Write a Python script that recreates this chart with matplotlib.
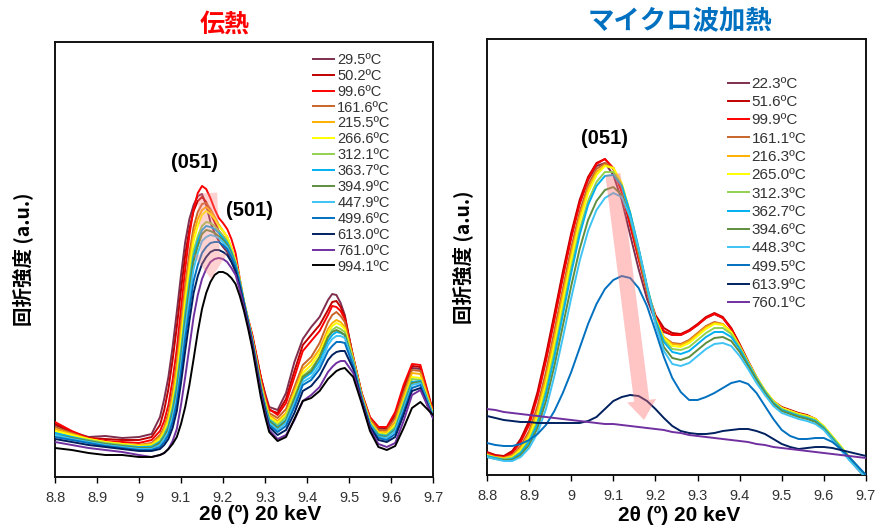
import matplotlib
matplotlib.use("Agg")
import matplotlib.pyplot as plt

# ---------------- data ----------------
TICKS = [8.8, 8.9, 9.0, 9.1, 9.2, 9.3, 9.4, 9.5, 9.6, 9.7]
TICK_LABELS = ["8.8", "8.9", "9", "9.1", "9.2", "9.3", "9.4", "9.5", "9.6", "9.7"]

# left panel (conventional heating)
X_L = [8.80, 8.84, 8.88, 8.92, 8.96, 9.00, 9.03,
       9.05, 9.06, 9.07, 9.08, 9.09, 9.10, 9.11, 9.12, 9.13, 9.14, 9.15, 9.16, 9.17, 9.18,
       9.19, 9.20, 9.21, 9.22, 9.23, 9.24, 9.25, 9.26, 9.27, 9.28, 9.29, 9.30, 9.31,
       9.33, 9.35, 9.37, 9.39, 9.41, 9.43, 9.45, 9.46, 9.47, 9.48, 9.49,
       9.51, 9.53, 9.55, 9.57, 9.59, 9.61, 9.63, 9.65, 9.67, 9.70]
L_LABELS = ["29.5ºC", "50.2ºC", "99.6ºC", "161.6ºC", "215.5ºC", "266.6ºC", "312.1ºC",
            "363.7ºC", "394.9ºC", "447.9ºC", "499.6ºC", "613.0ºC", "761.0ºC", "994.1ºC"]
L_29_5 = [52, 45, 40, 41, 39, 40, 43,
          60, 78, 100, 130, 165, 202, 235, 258, 272, 281, 283, 272, 255, 244, 236, 230, 225, 216,
          205, 190, 172, 156, 140, 120, 100, 84, 70,
          67, 84, 115, 138, 150, 160, 177, 183, 182, 174, 162,
          118, 83, 58, 49, 48, 60, 86, 109, 108, 64]
L_50_2 = [53, 45, 39, 38, 37, 37, 40,
          52, 67, 88, 117, 150, 187, 222, 248, 266, 276, 280, 275, 264, 255, 246, 241, 236, 227,
          214, 196, 174, 157, 140, 120, 99, 82, 67,
          64, 78, 106, 132, 142, 152, 167, 175, 176, 170, 160,
          120, 84, 59, 50, 49, 62, 89, 111, 110, 65]
L_99_6 = [55, 46, 39, 36, 35, 34, 37,
          46, 56, 72, 97, 128, 168, 208, 242, 268, 284, 291, 288, 279, 268, 259, 254, 248, 238,
          224, 198, 175, 158, 142, 121, 100, 82, 68,
          62, 74, 100, 126, 136, 146, 162, 171, 170, 166, 158,
          120, 84, 60, 50, 50, 65, 92, 113, 112, 66]
L_161_6 = [50, 44, 38, 35, 33, 32, 34,
           42, 50, 64, 86, 115, 154, 192, 224, 250, 265, 273, 274, 268, 260, 252, 246, 240, 229,
           215, 196, 174, 157, 139, 118, 96, 79, 64,
           59, 68, 90, 112, 120, 134, 155, 162, 165, 161, 155,
           120, 84, 58, 47, 47, 59, 84, 107, 106, 64]
L_215_5 = [48, 43, 38, 35, 33, 32, 33,
           40, 48, 60, 80, 108, 145, 183, 216, 243, 258, 267, 270, 266, 260, 252, 246, 240, 229,
           216, 197, 175, 157, 138, 116, 94, 77, 62,
           56, 64, 86, 108, 116, 128, 148, 154, 157, 155, 150,
           118, 82, 56, 45, 45, 55, 80, 104, 103, 64]
L_266_6 = [46, 42, 38, 35, 33, 31, 32,
           38, 45, 56, 75, 100, 137, 175, 208, 236, 251, 262, 266, 263, 258, 251, 246, 240, 229,
           216, 197, 176, 157, 137, 115, 92, 75, 60,
           54, 62, 83, 104, 112, 124, 144, 151, 154, 152, 148,
           117, 81, 55, 44, 43, 52, 76, 100, 99, 63]
L_312_1 = [44, 40, 37, 34, 32, 30, 31,
           36, 43, 52, 70, 94, 128, 165, 198, 226, 241, 251, 255, 254, 251, 246, 241, 236, 226,
           214, 196, 175, 156, 136, 114, 91, 73, 58,
           52, 60, 80, 101, 108, 120, 140, 147, 150, 148, 145,
           116, 80, 54, 43, 42, 50, 74, 98, 97, 62]
L_363_7 = [44, 40, 36, 33, 31, 30, 30,
           35, 41, 50, 67, 90, 123, 160, 192, 221, 236, 247, 251, 250, 248, 244, 239, 234, 225,
           213, 195, 175, 156, 136, 113, 90, 72, 57,
           50, 57, 77, 98, 104, 116, 136, 142, 145, 144, 142,
           115, 80, 53, 42, 41, 48, 72, 95, 96, 62]
L_394_9 = [42, 39, 36, 33, 31, 29, 29,
           34, 40, 48, 64, 86, 118, 155, 187, 216, 231, 243, 247, 246, 244, 241, 237, 232, 223,
           212, 194, 174, 155, 135, 112, 89, 71, 56,
           49, 56, 78, 100, 106, 120, 140, 145, 147, 145, 142,
           114, 79, 52, 41, 40, 47, 70, 94, 95, 61]
L_447_9 = [42, 38, 35, 32, 30, 28, 28,
           32, 38, 45, 60, 80, 111, 148, 179, 208, 224, 236, 240, 242, 241, 239, 235, 230, 221,
           211, 193, 174, 155, 135, 111, 88, 69, 54,
           47, 54, 74, 95, 100, 112, 132, 138, 141, 141, 139,
           113, 79, 52, 40, 39, 46, 68, 92, 94, 61]
L_499_6 = [40, 37, 34, 31, 29, 27, 27,
           30, 35, 42, 55, 74, 104, 138, 168, 196, 212, 224, 230, 234, 235, 235, 232, 228, 220,
           210, 193, 174, 154, 134, 110, 87, 68, 52,
           45, 51, 70, 92, 97, 108, 126, 131, 135, 135, 134,
           111, 78, 51, 39, 37, 43, 65, 89, 92, 60]
L_613_0 = [38, 35, 32, 30, 28, 26, 26,
           28, 32, 38, 49, 66, 94, 126, 156, 184, 201, 213, 220, 225, 227, 227, 225, 222, 215,
           206, 190, 172, 153, 133, 110, 86, 67, 50,
           42, 47, 64, 86, 91, 101, 117, 122, 125, 126, 126,
           108, 77, 50, 37, 35, 40, 62, 86, 89, 59]
L_761_0 = [35, 32, 29, 27, 25, 22, 20,
           22, 24, 28, 36, 48, 72, 100, 130, 160, 182, 198, 208, 215, 218, 219, 218, 215, 209,
           202, 187, 170, 151, 131, 108, 84, 64, 47,
           38, 42, 57, 76, 82, 90, 105, 110, 114, 116, 116,
           104, 76, 48, 33, 30, 34, 56, 82, 87, 59]
L_994_1 = [29, 27, 24, 22, 22, 20, 20,
           22, 24, 28, 33, 40, 53, 70, 92, 118, 145, 168, 184, 195, 202, 205, 205, 203, 199,
           193, 181, 166, 148, 128, 104, 80, 61, 45,
           36, 40, 58, 76, 79, 86, 98, 102, 106, 108, 109,
           100, 74, 46, 30, 27, 31, 49, 69, 75, 62]
L_SERIES = [L_29_5, L_50_2, L_99_6, L_161_6, L_215_5, L_266_6, L_312_1, L_363_7, L_394_9,
            L_447_9, L_499_6, L_613_0, L_761_0, L_994_1]

# right panel (microwave heating)
X_R = [8.80, 8.82, 8.84, 8.86, 8.88, 8.90, 8.92, 8.94, 8.96, 8.98, 9.00, 9.02, 9.04, 9.06, 9.08,
       9.10, 9.12, 9.14, 9.16, 9.18, 9.20, 9.22, 9.24, 9.26, 9.28, 9.30, 9.32, 9.34, 9.36, 9.38,
       9.40, 9.42, 9.44, 9.46, 9.48, 9.50, 9.52, 9.54, 9.56, 9.58, 9.60, 9.62, 9.64, 9.66, 9.68, 9.70]
R_LABELS = ["22.3ºC", "51.6ºC", "99.9ºC", "161.1ºC", "216.3ºC", "265.0ºC", "312.3ºC",
            "362.7ºC", "394.6ºC", "448.3ºC", "499.5ºC", "613.9ºC", "760.1ºC"]
R_22_3 = [22, 19, 18, 23, 34, 52, 80, 117, 158, 200, 239, 272, 295, 309, 312, 300, 275, 240, 206, 176,
          154, 143, 140, 140, 144, 150, 157, 161, 157, 146, 130, 113, 97, 83, 73, 67, 64, 61, 59, 55,
          47, 37, 26, 16, 6, -3]
R_51_6 = [23, 20, 19, 24, 36, 54, 83, 120, 161, 203, 242, 275, 298, 312, 316, 306, 283, 250, 217, 185,
          160, 147, 142, 141, 145, 151, 158, 162, 158, 147, 131, 114, 98, 84, 74, 68, 65, 62, 60, 56,
          48, 38, 27, 17, 7, -2]
R_99_9 = [22, 19, 18, 22, 33, 50, 78, 114, 155, 197, 237, 271, 296, 311, 316, 307, 284, 250, 216, 183,
          157, 144, 140, 140, 144, 150, 157, 161, 157, 146, 130, 113, 97, 83, 73, 67, 64, 61, 59, 56,
          48, 38, 27, 17, 7, -2]
R_161_1 = [21, 18, 17, 20, 29, 44, 69, 103, 144, 186, 227, 263, 290, 306, 312, 307, 288, 256, 220, 184,
           155, 138, 132, 131, 135, 142, 149, 153, 151, 142, 127, 111, 96, 83, 73, 67, 64, 61, 59, 56,
           48, 38, 27, 17, 7, -2]
R_216_3 = [20, 18, 17, 19, 27, 41, 64, 97, 137, 180, 221, 258, 286, 303, 310, 307, 290, 259, 223, 186,
           156, 138, 131, 130, 134, 141, 148, 152, 151, 143, 128, 112, 97, 84, 74, 67, 64, 61, 59, 56,
           48, 38, 28, 18, 8, -1]
R_265_0 = [20, 17, 16, 18, 25, 38, 59, 91, 130, 173, 215, 253, 282, 300, 309, 307, 292, 262, 226, 188,
           157, 137, 129, 128, 132, 139, 146, 151, 150, 143, 129, 113, 98, 85, 74, 67, 64, 61, 59, 56,
           49, 39, 29, 18, 8, -1]
R_312_3 = [19, 17, 16, 17, 23, 35, 54, 85, 123, 165, 207, 245, 274, 293, 303, 303, 290, 262, 226, 188,
           155, 135, 126, 125, 128, 135, 142, 147, 147, 141, 128, 112, 97, 84, 73, 66, 63, 60, 58, 55,
           48, 38, 28, 18, 8, -1]
R_362_7 = [19, 17, 15, 16, 22, 33, 51, 81, 118, 160, 202, 240, 270, 289, 299, 300, 289, 262, 227, 189,
           155, 133, 123, 121, 124, 131, 138, 143, 143, 138, 126, 111, 96, 83, 72, 65, 62, 59, 57, 54,
           47, 37, 27, 17, 8, -1]
R_394_6 = [18, 16, 15, 15, 20, 30, 47, 74, 109, 149, 189, 226, 255, 274, 285, 288, 280, 257, 224, 187,
           152, 128, 117, 115, 118, 125, 132, 137, 138, 134, 123, 109, 95, 82, 71, 64, 61, 58, 56, 53,
           46, 36, 26, 16, 7, -2]
R_448_3 = [18, 16, 14, 14, 18, 27, 42, 66, 99, 137, 177, 214, 244, 265, 277, 282, 278, 258, 226, 188,
           151, 124, 111, 109, 112, 119, 126, 131, 132, 129, 119, 106, 92, 80, 69, 62, 59, 56, 54, 51,
           45, 35, 25, 15, 6, -3]
R_499_5 = [32, 30, 29, 29, 31, 35, 41, 50, 64, 82, 103, 127, 151, 171, 186, 195, 199, 197, 187, 169,
           144, 118, 97, 83, 75, 75, 78, 82, 87, 92, 94, 91, 82, 69, 56, 45, 39, 36, 36, 37,
           37, 33, 26, 18, 9, 0]
R_613_9 = [59, 57, 55, 54, 53, 53, 52, 52, 52, 52, 52, 52, 54, 58, 66, 74, 78, 80, 79, 74,
           66, 57, 49, 44, 42, 41, 41, 42, 44, 45, 46, 46, 44, 41, 36, 31, 28, 26, 27, 28,
           28, 27, 25, 23, 21, 19]
R_760_1 = [66, 65, 63, 62, 61, 60, 59, 58, 57, 56, 55, 54, 53, 52, 51, 51, 50, 49, 48, 47,
           46, 45, 43, 42, 40, 39, 38, 37, 36, 35, 34, 33, 31, 30, 28, 27, 26, 25, 24, 23,
           22, 21, 20, 19, 18, 17]
R_SERIES = [R_22_3, R_51_6, R_99_9, R_161_1, R_216_3, R_265_0, R_312_3, R_362_7, R_394_6,
            R_448_3, R_499_5, R_613_9, R_760_1]

# annotation anchors (data coordinates)
L_ARROW = ((9.163, 284), (9.172, 198))
R_ARROW = ((9.099, 301), (9.173, 55))

# ---------------- style ----------------
COLORS = ["#7E2E4E", "#C00000", "#FF0000", "#C8642A", "#FFB000", "#FFFF00", "#92D050",
          "#00B0F0", "#5E8E3E", "#3EC3F5", "#0070C0", "#002060", "#7030A0", "#000000"]
CJK = ["Noto Sans CJK JP", "DejaVu Sans"]
NARROW = ["Liberation Sans Narrow", "Liberation Sans", "DejaVu Sans"]
SANS = ["Liberation Sans", "DejaVu Sans"]

fig = plt.figure(figsize=(8.77, 5.28), dpi=100)
axL = fig.add_axes([55 / 877, 51 / 528, 378 / 877, 435 / 528])
axR = fig.add_axes([487 / 877, 53 / 528, 379 / 877, 436 / 528])


def style_axis(ax, ymax, xlab_x, xlab_y, ypad):
    ax.set_xlim(8.8, 9.7)
    ax.set_ylim(0, ymax)
    ax.set_yticks([])
    ax.set_xticks(TICKS)
    ax.set_xticklabels(TICK_LABELS, family=NARROW, fontsize=10.5, color="#333333")
    ax.tick_params(axis="x", direction="out", length=4, width=1, pad=6)
    for s in ax.spines.values():
        s.set_linewidth(1.4)
        s.set_color("#111111")
    ax.set_xlabel("2θ (º) 20 keV", family=SANS, fontsize=15, fontweight="bold", va="center")
    ax.xaxis.set_label_coords(xlab_x, xlab_y)
    ax.set_ylabel("回折強度 (a.u.)", family=CJK, fontsize=14, fontweight="bold", labelpad=ypad)


style_axis(axL, 435, 0.542, -0.087, 16)
style_axis(axR, 436, 0.507, -0.092, 10)

for ys, c, lab in zip(L_SERIES, COLORS, L_LABELS):
    axL.plot(X_L, ys, color=c, lw=1.4, label=lab, zorder=3, solid_joinstyle="round")

for ys, c, lab in zip(R_SERIES, COLORS[:13], R_LABELS):
    axR.plot(X_R, ys, color=c, lw=1.4, label=lab, zorder=3, solid_joinstyle="round")

# pink arrows
axL.annotate("", xy=L_ARROW[1], xytext=L_ARROW[0],
             arrowprops=dict(arrowstyle="simple,head_length=1.8,head_width=2.5,tail_width=1.4",
                             fc="#FF8080", ec="none", alpha=0.35, shrinkA=0, shrinkB=0,
                             mutation_scale=10), zorder=5)
axR.annotate("", xy=R_ARROW[1], xytext=R_ARROW[0],
             arrowprops=dict(arrowstyle="simple,head_length=1.4,head_width=2.1,tail_width=1.1",
                             fc="#FF7070", ec="none", alpha=0.4, shrinkA=0, shrinkB=0,
                             mutation_scale=10), zorder=5)

# peak labels
axL.text(9.133, 314, "(051)", ha="center", va="center", fontsize=14.5, fontweight="bold", family=SANS)
axL.text(9.264, 267, "(501)", ha="center", va="center", fontsize=14.5, fontweight="bold", family=SANS)
axR.text(9.079, 336, "(051)", ha="center", va="center", fontsize=14.5, fontweight="bold", family=SANS)

# legends
legL = axL.legend(loc="upper left", bbox_to_anchor=(0.683, 0.975), frameon=False,
                  fontsize=10.5, handlelength=1.45, handletextpad=0.2, labelspacing=0.13,
                  borderaxespad=0, borderpad=0)
legR = axR.legend(loc="upper left", bbox_to_anchor=(0.636, 0.913), frameon=False,
                  fontsize=11, handlelength=1.35, handletextpad=0.2, labelspacing=0.28,
                  borderaxespad=0, borderpad=0)
for leg in (legL, legR):
    for t in leg.get_texts():
        t.set_color("#333333")
        t.set_family(SANS)

# titles
fig.text(225 / 877, 1 - 25 / 528, "伝熱", color="#FF0000", fontsize=18, fontweight="bold",
         family=CJK, ha="center", va="center")
fig.text(680 / 877, 1 - 22 / 528, "マイクロ波加熱", color="#0070C0", fontsize=19,
         fontweight="bold", family=CJK, ha="center", va="center")

fig.savefig("out.png", dpi=100)
